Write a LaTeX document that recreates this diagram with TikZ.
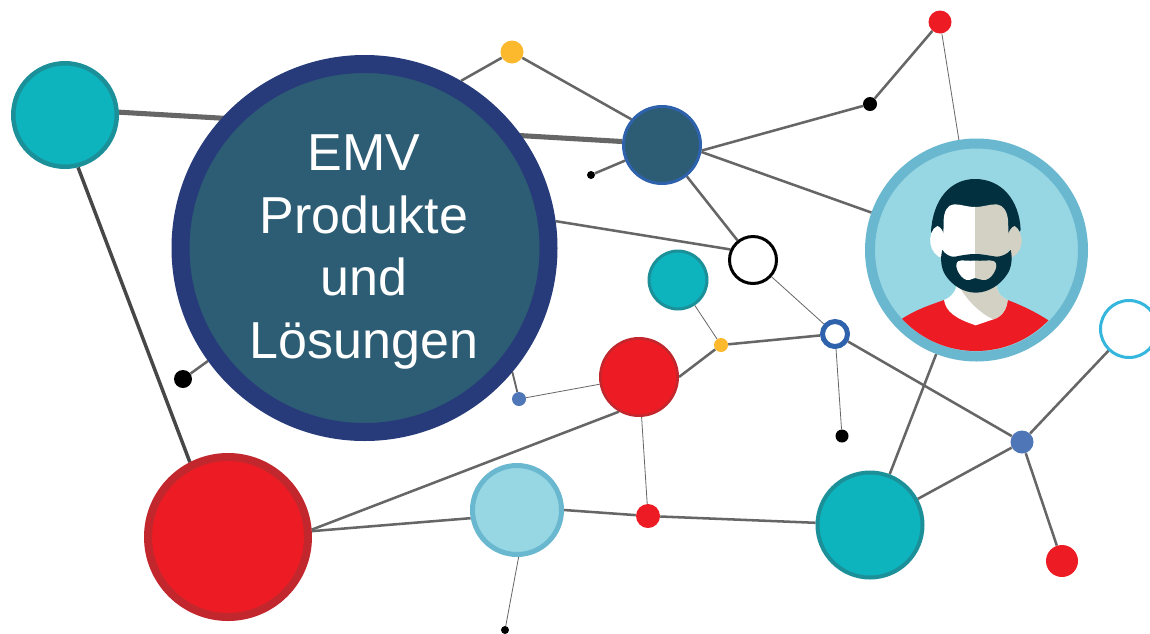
\documentclass[tikz,border=0pt]{standalone}
\usepackage{fontspec}
\setmainfont{Liberation Sans}
\pgfdeclarelayer{bg}
\pgfsetlayers{bg,main}
\definecolor{tealF}{HTML}{0DB3BD}
\definecolor{tealR}{HTML}{1C9099}
\definecolor{navyR}{HTML}{273B7A}
\definecolor{slateF}{HTML}{2D5D74}
\definecolor{blueR}{HTML}{2F62AC}
\definecolor{redF}{HTML}{ED1C24}
\definecolor{redR}{HTML}{C1272D}
\definecolor{skyF}{HTML}{97D7E3}
\definecolor{skyR}{HTML}{6AB7D0}
\definecolor{cyanR}{HTML}{35B6DD}
\definecolor{yellowF}{HTML}{FDB92E}
\definecolor{blueF}{HTML}{4F76B6}
\definecolor{lineC}{HTML}{666666}
\definecolor{hairC}{HTML}{02303F}
\definecolor{shadeC}{HTML}{D3D1C4}
\tikzset{
  orb/.style n args={4}{circle,inner sep=0pt,minimum size={(2*#1-#2)*0.75pt},line width={#2*0.75pt},fill=#3,draw=#4},
  dot/.style n args={2}{circle,inner sep=0pt,minimum size={2*#1*0.75pt},fill=#2},
  link/.style={draw=lineC,line width=1.9pt},
  wide/.style={draw=lineC,line width=3.8pt},
  fine/.style={draw=lineC,line width=0.6pt},
  mid/.style={draw=lineC,line width=1.4pt},
}
\begin{document}
\begin{tikzpicture}[x=0.75pt,y=-0.75pt]
\useasboundingbox (0,0) rectangle (1150,633);
% nodes
\node[orb={54}{4.5}{tealF}{tealR}] (a) at (65,115) {};
\node[orb={193}{18}{slateF}{navyR}] (core) at (364.5,248) {};
\node[text=white,align=center,inner sep=0pt,font=\fontsize{39}{46.8}\selectfont] (title) at (364,252) {EMV\\Produkte\\und\\Lösungen};
\node[orb={40}{3}{slateF}{blueR}] (dk) at (662,145) {};
\node[dot={11.5}{yellowF}] (yt) at (512,52) {};
\node[dot={11.5}{redF}] (rt) at (940,22) {};
\node[dot={7}{black}] (k1) at (870,104) {};
\node[dot={4}{black}] (k2) at (591,175) {};
\node[orb={111.5}{10}{skyF}{skyR}] (person) at (976.5,250) {};
\node[orb={25}{3}{white}{black}] (wh) at (753,260) {};
\node[orb={30.5}{3}{tealF}{tealR}] (tm) at (678,280) {};
\node[orb={15}{5}{white}{blueR}] (br) at (835,334) {};
\node[orb={30}{3}{white}{cyanR}] (cy) at (1129,329) {};
\node[dot={7}{yellowF}] (ys) at (721,345) {};
\node[orb={40}{2.5}{redF}{redR}] (rm) at (639,377) {};
\node[dot={7}{blueF}] (bs) at (519,399) {};
\node[dot={9}{black}] (k3) at (183,379) {};
\node[dot={6.5}{black}] (k4) at (842,436) {};
\node[dot={11.5}{blueF}] (bh) at (1022,442) {};
\node[dot={16}{redF}] (rr) at (1062,561) {};
\node[orb={54.5}{4}{tealF}{tealR}] (tb) at (870,525) {};
\node[dot={12}{redF}] (rs) at (648,516) {};
\node[orb={47}{5}{skyF}{skyR}] (lb) at (517,510) {};
\node[orb={84}{8}{redF}{redR}] (rb) at (228,537) {};
\node[dot={4}{black}] (k5) at (505,630) {};
% connectors
\begin{pgfonlayer}{bg}
\fill[white] (0,0) rectangle (1150,633);
\draw[wide] (a.3) -- (dk.175);
\draw[draw=black!72,line width=2.6pt] (a.-76) -- (rb.117);
\draw[link] (yt) -- (core.60);
\draw[link] (yt) -- (dk.140);
\draw[link] (dk) -- (k2);
\draw[link] (dk.-8) -- (k1);
\draw[link] (k1) -- (rt);
\draw[fine] (rt) -- (person);
\draw[link] (dk.-10) -- (person);
\draw[link] (dk) -- (wh);
\draw[link] (core.8) -- (wh.155);
\draw[fine] (wh) -- (br);
\draw[fine] (tm) -- (ys);
\draw[link] (ys) -- (br);
\draw[link] (ys) -- (rm.0);
\draw[fine] (rm) -- (bs);
\draw[mid] (bs) -- (core.-40);
\draw[link] (k3) -- (core);
\draw[link] (rb.5) -- (rm.240);
\draw[link] (rb.4) -- (lb.190);
\draw[link] (lb.0) -- (rs);
\draw[link] (rs) -- (tb);
\draw[fine] (rm) -- (rs);
\draw[fine] (lb.-88) -- (k5);
\draw[fine] (br) -- (k4);
\draw[link] (br) -- (bh);
\draw[link] (bh) -- (tb);
\draw[link] (bh) -- (cy);
\draw[link] (bh) -- (rr);
\draw[link] (person) -- (tb);
\end{pgfonlayer}
% portrait
\begin{scope}[shift={(860,130)},x=0.25pt,y=-0.25pt]
\begin{scope}
\clip (348,360) circle[radius=303];
\fill[redF] (125,567) .. controls (165,540) and (210,525) .. (252,510) -- (443,510) .. controls (490,528) and (530,548) .. (567,572) -- (600,700) -- (100,700) -- cycle;
\end{scope}
% neck
\fill[white] (290,465) .. controls (285,490) and (270,503) .. (252,510) .. controls (258,545) and (285,565) .. (347,586) -- (400,568) .. controls (425,560) and (440,540) .. (443,510) .. controls (425,503) and (412,490) .. (408,465) -- cycle;
\fill[shadeC] (295,465) .. controls (320,510) and (360,550) .. (400,568) .. controls (425,560) and (440,540) .. (443,510) .. controls (425,503) and (412,490) .. (408,465) -- cycle;
% hair
\fill[hairC] (213,306) .. controls (218,210) and (270,147) .. (345,147) .. controls (425,147) and (478,210) .. (482,300) -- (450,340) -- (245,340) -- cycle;
% ears
\fill[white] (232,288) .. controls (215,295) and (208,320) .. (211,340) .. controls (214,362) and (230,382) .. (248,384) -- (255,320) .. controls (250,305) and (242,290) .. (232,288) -- cycle;
\fill[shadeC] (464,288) .. controls (478,295) and (487,320) .. (485,340) .. controls (482,362) and (466,382) .. (448,384) -- (442,320) .. controls (446,305) and (454,290) .. (464,288) -- cycle;
% face
\fill[white] (345,231) .. controls (320,231) and (300,222) .. (282,223) .. controls (262,224) and (252,245) .. (251,270) -- (250,320) -- (250,420) -- (345,420) -- cycle;
\fill[shadeC] (345,231) .. controls (370,231) and (390,222) .. (410,223) .. controls (430,225) and (442,245) .. (444,270) -- (446,320) -- (446,420) -- (345,420) -- cycle;
% beard
\fill[hairC] (247,360) .. controls (255,372) and (270,382) .. (285,380) .. controls (305,376) and (325,372) .. (346,372) .. controls (370,372) and (390,378) .. (410,380) .. controls (425,380) and (442,372) .. (452,360) .. controls (458,385) and (455,415) .. (440,435) .. controls (420,465) and (385,488) .. (347,488) .. controls (310,488) and (275,465) .. (256,435) .. controls (243,415) and (240,385) .. (247,360) -- cycle;
% mouth
\fill[white] (345,392) .. controls (325,394) and (305,388) .. (294,394) .. controls (286,400) and (288,415) .. (296,428) .. controls (304,442) and (315,452) .. (328,450) .. controls (335,449) and (340,444) .. (345,444) -- cycle;
\fill[shadeC] (345,392) .. controls (365,394) and (390,388) .. (403,394) .. controls (412,400) and (410,415) .. (402,428) .. controls (394,442) and (382,452) .. (368,450) .. controls (358,449) and (350,444) .. (345,444) -- cycle;
\end{scope}
\end{tikzpicture}
\end{document}
